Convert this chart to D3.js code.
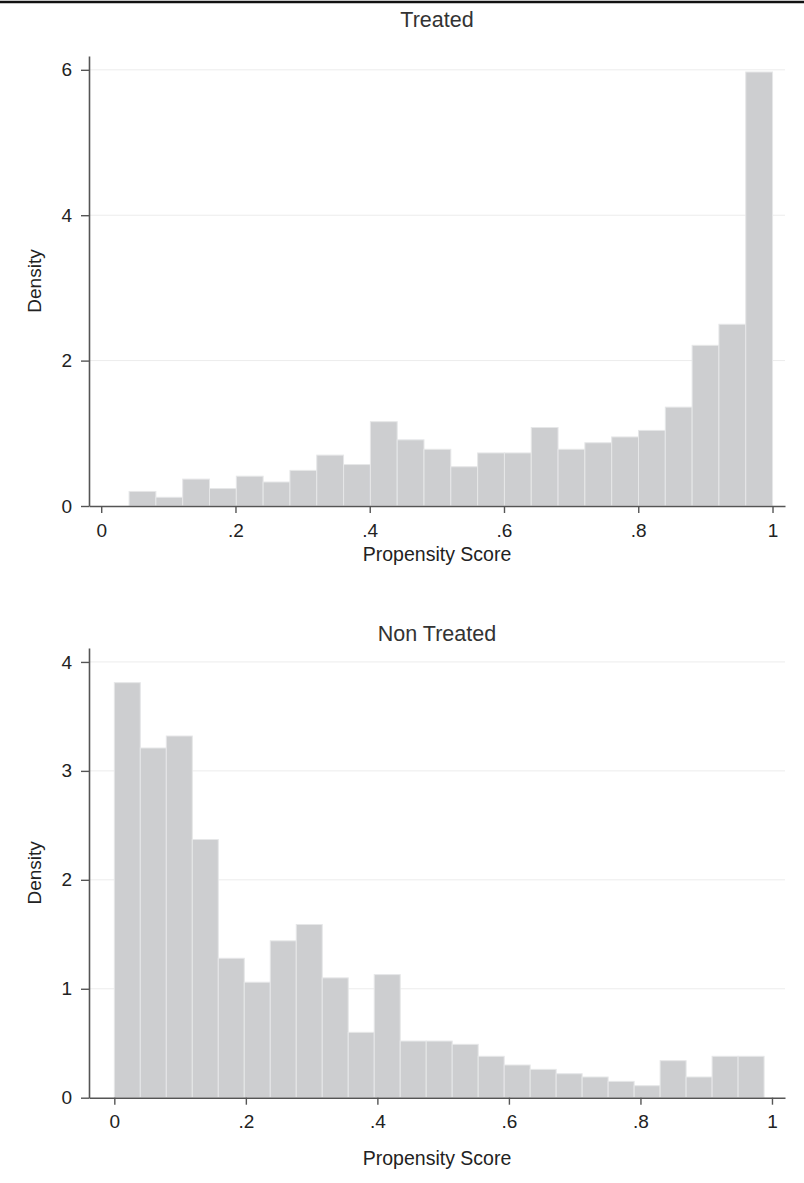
<!DOCTYPE html>
<html>
<head>
<meta charset="utf-8">
<script src="https://cdn.jsdelivr.net/npm/d3@7"></script>
<style>
  body { margin: 0; background: #fff; }
  svg { display: block; font-family: "Liberation Sans", Arial, sans-serif; }
</style>
</head>
<body>
<div id="chart"></div>
<script>
// histogram densities
const treatedDensity = [0.20, 0.12, 0.37, 0.24, 0.41, 0.33, 0.49, 0.70, 0.57, 1.16, 0.91, 0.78,
  0.54, 0.73, 0.73, 1.08, 0.78, 0.87, 0.95, 1.04, 1.36, 2.21, 2.50, 5.97];
const treatedStart = 0.0415, treatedWidth = 0.03994;

const nonTreatedDensity = [3.81, 3.21, 3.32, 2.37, 1.28, 1.06, 1.44, 1.59, 1.10, 0.60, 1.13, 0.52,
  0.52, 0.49, 0.38, 0.30, 0.26, 0.22, 0.19, 0.15, 0.11, 0.34, 0.19, 0.38, 0.38];
const nonTreatedStart = 0.0, nonTreatedWidth = 0.03952;

const xTicks = [0, 0.2, 0.4, 0.6, 0.8, 1];
const yTicksTreated = [0, 2, 4, 6];
const yTicksNonTreated = [0, 1, 2, 3, 4];

const width = 804, height = 1183;
const svg = d3.select("#chart").append("svg")
  .attr("width", width)
  .attr("height", height);

// thick rule across the top
svg.append("line")
  .attr("x1", 0).attr("x2", width)
  .attr("y1", 2).attr("y2", 2)
  .attr("stroke", "#111").attr("stroke-width", 2.5);

const fmt = d => d === 0 ? "0" : d === 1 ? "1" : String(d).replace(/^0/, "");

function panel(opt) {
  const data = opt.values.map((v, i) => ({
    x0: opt.start + i * opt.binWidth,
    x1: opt.start + (i + 1) * opt.binWidth,
    v: v
  }));

  const x = d3.scaleLinear().domain(opt.xDomain).range([89, 785]);
  const y = d3.scaleLinear().domain(opt.yDomain).range([opt.y0, opt.yTop]);

  const g = svg.append("g");

  // grid
  g.append("g").selectAll("line")
    .data(opt.yTicks.filter(d => d > 0))
    .enter().append("line")
    .attr("x1", 89).attr("x2", 785)
    .attr("y1", d => y(d)).attr("y2", d => y(d))
    .attr("stroke", "#ececec").attr("stroke-width", 1);

  // bars
  g.append("g").selectAll("rect")
    .data(data)
    .enter().append("rect")
    .attr("x", d => x(d.x0))
    .attr("width", d => x(d.x1) - x(d.x0))
    .attr("y", d => y(d.v))
    .attr("height", d => y(0) - y(d.v))
    .attr("fill", "#cdced0")
    .attr("stroke", "#e6e7e8")
    .attr("stroke-width", 1);

  const yAxis = g.append("g")
    .attr("transform", "translate(89,0)")
    .call(d3.axisLeft(y).tickValues(opt.yTicks).tickFormat(fmt).tickSize(8).tickPadding(9).tickSizeOuter(0));

  const xAxis = g.append("g")
    .attr("transform", `translate(0,${opt.y0})`)
    .call(d3.axisBottom(x).tickValues(xTicks).tickFormat(fmt).tickSize(7).tickPadding(opt.xPad).tickSizeOuter(0));

  [yAxis, xAxis].forEach(a => {
    a.select(".domain").attr("stroke", "#555").attr("stroke-width", 1.6);
    a.selectAll(".tick line").attr("stroke", "#555").attr("stroke-width", 1.4);
    a.selectAll(".tick text").attr("fill", "#222").style("font-size", "19px");
  });

  g.append("text")
    .attr("x", 437).attr("y", opt.titleY)
    .attr("text-anchor", "middle")
    .attr("fill", "#333")
    .style("font-size", "21.5px")
    .text(opt.title);

  g.append("text")
    .attr("x", 437).attr("y", opt.xLabelY)
    .attr("text-anchor", "middle")
    .attr("fill", "#222")
    .style("font-size", "19.5px")
    .text("Propensity Score");

  g.append("text")
    .attr("transform", `translate(41,${(opt.y0 + opt.yTop) / 2}) rotate(-90)`)
    .attr("text-anchor", "middle")
    .attr("fill", "#222")
    .style("font-size", "19px")
    .text("Density");
}

panel({
  title: "Treated",
  values: treatedDensity, start: treatedStart, binWidth: treatedWidth,
  xDomain: [-0.0182, 1.0186],
  yDomain: [0, 6.19], y0: 506, yTop: 56,
  yTicks: yTicksTreated,
  xPad: 11, titleY: 27, xLabelY: 561
});

panel({
  title: "Non Treated",
  values: nonTreatedDensity, start: nonTreatedStart, binWidth: nonTreatedWidth,
  xDomain: [-0.0385, 1.0198],
  yDomain: [0, 4.128], y0: 1097.7, yTop: 648,
  yTicks: yTicksNonTreated,
  xPad: 10, titleY: 641, xLabelY: 1165
});
</script>
</body>
</html>
